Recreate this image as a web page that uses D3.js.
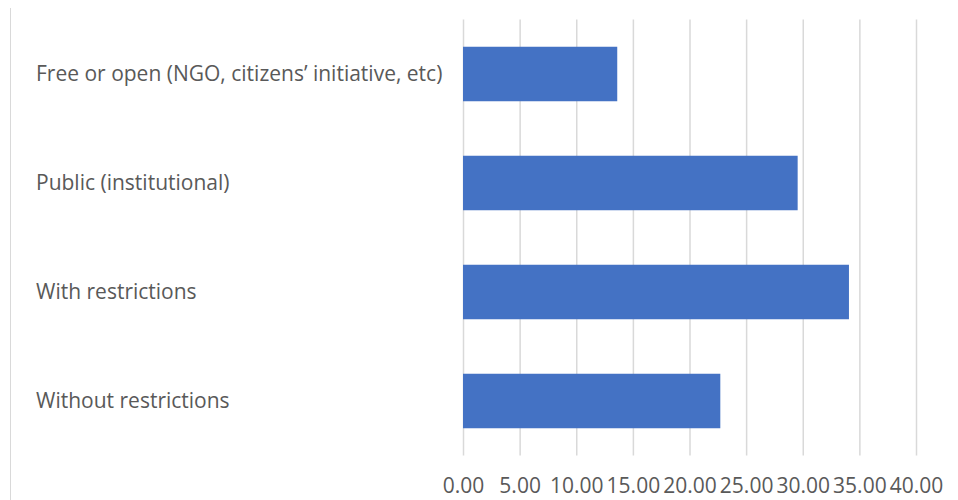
<!DOCTYPE html>
<html>
<head>
<meta charset="utf-8">
<script src="https://cdn.jsdelivr.net/npm/d3@7"></script>
<style>
  html, body { margin: 0; padding: 0; background: #fff; }
  svg { display: block; }
  text { font-family: "Open Sans", "Noto Sans", sans-serif; fill: #595959; }
</style>
</head>
<body>
<svg id="chart" width="958" height="500"></svg>
<script>
const categories = [
  "Free or open (NGO, citizens\u2019 initiative, etc)",
  "Public (institutional)",
  "With restrictions",
  "Without restrictions"
];
const values = [13.62, 29.55, 34.08, 22.72];
const tickValues = [0, 5, 10, 15, 20, 25, 30, 35, 40];

const svg = d3.select("#chart");
const W = 958, H = 500;
const plot = { left: 463, right: 916, top: 19.5, bottom: 455.5 };
const fontSize = "21px";

// chart frame edge
svg.append("line")
  .attr("x1", 10.5).attr("x2", 10.5)
  .attr("y1", 8).attr("y2", H)
  .attr("stroke", "#d9d9d9").attr("stroke-width", 1);

const x = d3.scaleLinear().domain([0, 40]).range([plot.left, plot.right]);
const y = d3.scaleBand().domain(categories).range([plot.top, plot.bottom]).paddingInner(0.5).paddingOuter(0.25);

// vertical gridlines
const xAxis = d3.axisBottom(x)
  .tickValues(tickValues)
  .tickSize(-(plot.bottom - plot.top))
  .tickFormat(d3.format(".2f"))
  .tickPadding(0);

const gx = svg.append("g")
  .attr("transform", `translate(0,${plot.bottom})`)
  .call(xAxis);
gx.select(".domain").remove();
gx.selectAll(".tick line").attr("stroke", "#d9d9d9").attr("stroke-width", 1.5);
gx.selectAll(".tick text")
  .attr("y", 30)
  .attr("dy", "0.35em")
  .style("font-size", fontSize)
  .attr("fill", "#595959");

// bars
svg.append("g").selectAll("rect")
  .data(values)
  .join("rect")
  .attr("x", x(0))
  .attr("y", (d, i) => y(categories[i]))
  .attr("width", d => x(d) - x(0))
  .attr("height", y.bandwidth())
  .attr("fill", "#4472c4");

// category labels
svg.append("g").selectAll("text")
  .data(categories)
  .join("text")
  .attr("x", 36)
  .attr("y", d => y(d) + y.bandwidth() / 2)
  .attr("dy", "0.35em")
  .style("font-size", fontSize)
  .text(d => d);
</script>
</body>
</html>
